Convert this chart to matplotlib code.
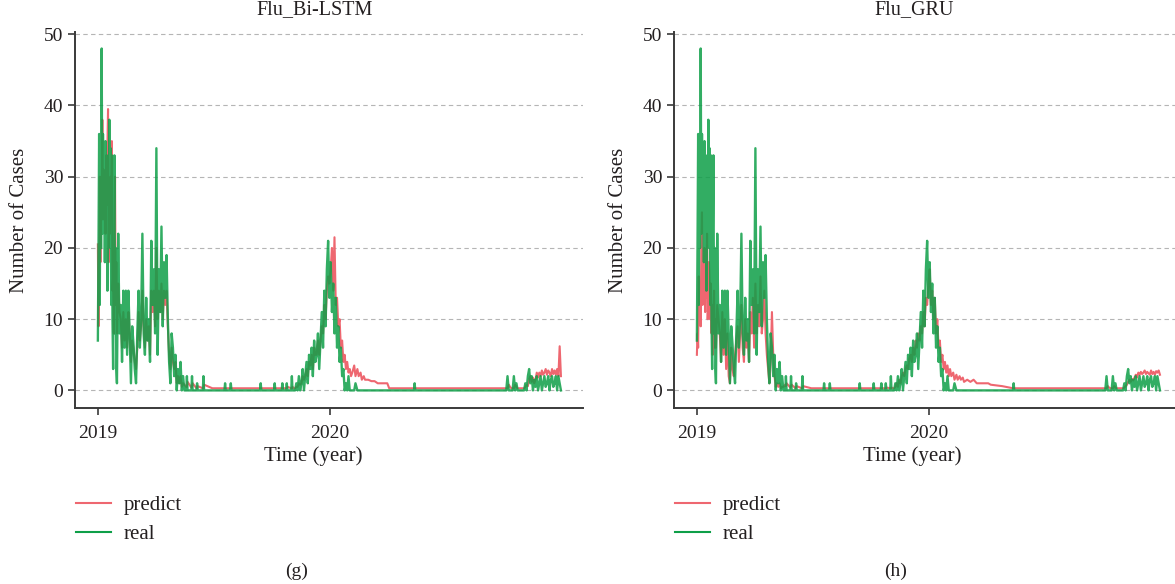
import matplotlib
matplotlib.use("Agg")
import matplotlib.pyplot as plt
import numpy as np

plt.rcParams['font.family'] = ['Liberation Serif', 'DejaVu Serif']

# day offsets from 2019-01-01 (dense in the flu seasons, sparse when flat)
days = (list(range(0, 30))
        + list(range(30, 136, 2))
        + [136, 139, 140, 141, 147, 148, 149, 155, 156, 157, 165, 166, 167, 180,
           199, 200, 201, 208, 209, 210, 230, 255, 256, 257, 277, 278, 279,
           289, 290, 291, 296, 297, 298, 304, 305, 306, 308]
        + list(range(310, 402, 2))
        + [403, 405, 408, 410, 413, 415, 418, 420, 425, 430, 435, 440, 445,
           450, 455, 458, 462, 480, 497, 498, 499, 520, 560, 600, 640]
        + list(range(642, 730, 2)))

real = [
    # January 2019, daily
    7, 20, 36, 12, 35, 20, 48, 22, 36, 26, 34, 18, 35, 24, 33, 14, 30, 20, 38, 22,
    34, 12, 33, 10, 3, 22, 33, 8, 20, 3,
    # rest of the 2019 wave
    1, 22, 8, 12, 4, 14, 6, 14, 5, 14, 8, 1, 9, 6.5, 3, 1, 8, 14, 6, 10,
    22, 8, 5, 13, 7, 10, 4, 21, 12, 17, 8, 34, 5, 17, 11, 23, 9, 18, 13, 19,
    10, 4, 1, 8, 6, 2, 5, 0, 3, 1, 4, 0, 2,
    # summer 2019
    0, 0, 2, 0, 0, 2, 0, 0, 1, 0, 0, 2, 0, 0, 0, 1, 0, 0, 1, 0,
    0, 0, 1, 0, 0, 1, 0, 0, 1, 0, 0, 1, 0, 0, 2, 0, 0,
    # wave 2019/2020
    0, 1, 0, 2, 0, 1, 3, 0, 2, 4, 1, 5, 3, 6, 2, 7, 4, 5, 8, 3,
    7, 11, 6, 14, 9, 17, 21, 13, 18, 11, 15, 8, 13, 6, 9, 4, 6, 2, 3, 0,
    1, 0, 2, 0, 0, 0,
    # 2020 quiet
    0, 1, 0, 0, 0, 0, 0, 0, 0, 0, 0, 0, 0, 0, 0, 0, 0, 0, 0, 1,
    0, 0, 0, 0, 0,
    # late 2020
    0, 2, 0, 0, 0, 0, 2, 0, 1, 0, 0, 0, 0, 0, 0, 1, 0, 2, 3, 1,
    2, 0, 1.5, 0.5, 2, 0, 1, 2, 0, 1, 2, 0.5, 1, 2, 0, 1.5, 2, 0.5, 1, 2,
    0, 2, 1, 0,
]

pred_bilstm = [
    20.5, 9, 15, 30, 18, 28, 25, 38, 24, 31, 28, 30, 22, 33, 26, 34, 39.5, 18, 27, 22,
    30, 27, 35, 14, 16, 8, 20, 30, 12, 18,
    8, 15, 11, 10, 6, 11, 7, 10, 6, 11, 8, 4, 7, 6, 4, 3, 6, 11, 7, 9,
    14, 9, 6, 10, 7, 9, 5, 14, 11, 14, 9, 20, 10, 14, 11, 15, 10, 14, 12, 14,
    9, 5, 3, 6, 4, 3, 4, 1, 2, 1, 2, 0.5, 1,
    0.8, 0.5, 0.5, 1.2, 0.4, 0.5, 1, 0.3, 0.3, 0.6, 0.3, 0.3, 0.8, 0.3, 0.3, 0.3, 0.3, 0.3, 0.3, 0.3,
    0.3, 0.3, 0.3, 0.3, 0.3, 0.3, 0.3, 0.3, 0.3, 0.3, 0.3, 0.3, 0.5, 0.3, 0.3, 0.5, 0.3,
    0.3, 0.5, 0.5, 1, 0.8, 1, 2, 1.5, 2, 3, 2, 4, 3.5, 5, 3, 6, 5, 5, 7, 5,
    7, 9, 8, 12, 10, 14, 16, 15, 17, 20, 14, 21.5, 12, 13, 9, 10, 6, 7, 4, 5,
    3, 4, 2.5, 3, 2, 2.5,
    3.5, 2, 3, 2, 2.5, 1.5, 2, 1.5, 1.5, 1.3, 1.3, 1.0, 1.0, 1.0, 1.0, 0.3, 0.3, 0.3, 0.3, 0.3,
    0.3, 0.3, 0.3, 0.3, 0.3,
    0.3, 0.3, 0.8, 0.5, 0.3, 0.3, 0.3, 0.8, 0.5, 0.3, 0.3, 0.3, 0.3, 0.3, 0.3, 0.5, 0.8, 0.6, 1.5, 2,
    1.2, 1.8, 1, 1.5, 2.5, 1.8, 2.5, 2, 2.8, 2.2, 2.5, 3, 2.2, 2.8, 2.5, 2, 3, 2.3, 2.8, 2.2,
    3, 2, 6.2, 2,
]

pred_gru = [
    5, 8, 6, 16, 10, 14, 9, 20, 25, 12, 18, 14, 20, 11, 17, 13, 22, 10, 13, 18,
    15, 10, 15, 8, 12, 5, 9, 14, 6, 10,
    6, 12, 10, 8, 4, 11, 5, 10, 3, 8, 2, 1, 6, 3, 2, 5, 7, 9, 4, 8,
    12, 6, 4, 10, 6, 8, 4, 11, 8, 13, 6, 15, 8, 12, 9, 16, 8, 10, 14, 8,
    5, 3, 1, 4, 11, 5, 2, 0.5, 1, 0.5, 1, 0.3, 0.5,
    0.5, 0.8, 0.6, 1, 0.4, 0.6, 0.8, 0.3, 0.4, 0.6, 0.3, 0.3, 0.6, 0.3, 0.3, 0.3, 0.3, 0.3, 0.3, 0.3,
    0.3, 0.3, 0.3, 0.3, 0.3, 0.3, 0.3, 0.3, 0.3, 0.3, 0.3, 0.3, 0.4, 0.3, 0.3, 0.4, 0.3,
    0.3, 0.5, 1, 0.5, 1.5, 1, 2, 2.5, 2, 3, 3.5, 3, 4.5, 5, 4, 6, 5, 7, 6, 8,
    7, 9, 8, 11, 9, 13, 12, 15, 17, 12, 14, 10, 13, 8, 10, 6, 7, 4, 5, 3,
    4, 2.5, 3.5, 2, 3, 2,
    2.5, 1.5, 2.2, 1.5, 2, 1.5, 1.8, 1.2, 1.5, 1.2, 1.5, 1.0, 1.0, 1.0, 1.0, 1.0, 0.8, 0.6, 0.3, 0.3,
    0.3, 0.3, 0.3, 0.3, 0.3,
    0.3, 0.3, 0.6, 0.4, 0.3, 0.3, 0.3, 0.6, 0.4, 0.3, 0.3, 0.3, 0.3, 0.3, 0.3, 0.4, 0.6, 0.8, 1.2, 1.5,
    1.2, 1.6, 1.4, 1.8, 2.2, 1.8, 2.5, 2.2, 2.6, 2.3, 2.5, 2.8, 2.3, 2.6, 2.4, 2.2, 2.8, 2.3, 2.6, 2.2,
    2.7, 2.5, 2.8, 2.2,
]

year_ticks = [0, 365]
year_labels = ['2019', '2020']
titles = ['Flu_Bi-LSTM', 'Flu_GRU']
panel_tags = ['(g)', '(h)']

assert len(days) == len(real) == len(pred_bilstm) == len(pred_gru)

RED = '#ee6770'
GREEN = '#0e9f48'
TXT = '#231f20'

fig = plt.figure(figsize=(11.75, 5.84), dpi=100)
axes_pos = [[0.0638, 0.301, 0.432, 0.644], [0.5736, 0.301, 0.432, 0.644]]
x = np.array(days)

for i, (pos, pred) in enumerate(zip(axes_pos, [pred_bilstm, pred_gru])):
    ax = fig.add_axes(pos)
    ax.plot(x, pred, color=RED, lw=1.5, label='predict', zorder=3)
    ax.plot(x, real, color=GREEN, lw=1.7, alpha=0.85, label='real', zorder=4)

    ax.set_xlim(-36, 762)
    ax.set_ylim(-2.5, 50.3)
    ax.set_yticks([0, 10, 20, 30, 40, 50])
    ax.set_xticks(year_ticks)
    ax.set_xticklabels(year_labels)
    ax.grid(axis='y', linestyle=(0, (4, 3)), color='#b5b5b5', lw=0.8)
    ax.set_axisbelow(True)
    for s in ['top', 'right']:
        ax.spines[s].set_visible(False)
    for s in ['left', 'bottom']:
        ax.spines[s].set_color('#3a3a3a')
        ax.spines[s].set_linewidth(1.4)
    ax.tick_params(axis='both', labelsize=14, colors='#3a3a3a', labelcolor=TXT,
                   length=5, width=1.2, direction='out')
    ax.tick_params(axis='x', pad=7)

    x0 = pos[0] * 1175
    fig.text((x0 + 240) / 1175, 1 - 10 / 584, titles[i], ha='center', va='center',
             fontsize=14.5, color=TXT)
    fig.text((x0 + 238) / 1175, 1 - 456 / 584, 'Time (year)', ha='center', va='center',
             fontsize=15, color=TXT)
    fig.text((x0 - 55) / 1175, 1 - 220 / 584, 'Number of Cases', ha='center', va='center',
             rotation=90, fontsize=15, color=TXT)
    fig.text((x0 + 222) / 1175, 1 - 571 / 584, panel_tags[i], ha='center', va='center',
             fontsize=14, color=TXT)

    handles, labels = ax.get_legend_handles_labels()
    leg = fig.legend(handles, labels, loc='upper left',
                     bbox_to_anchor=((x0 - 18) / 1175, 1 - 477 / 584),
                     frameon=False, fontsize=15, handlelength=1.7,
                     handletextpad=0.6, labelspacing=0.45)
    for t in leg.get_texts():
        t.set_color(TXT)
    for h in leg.legend_handles:
        h.set_alpha(1)
        h.set_linewidth(1.5)

fig.savefig('out.png', dpi=100)
